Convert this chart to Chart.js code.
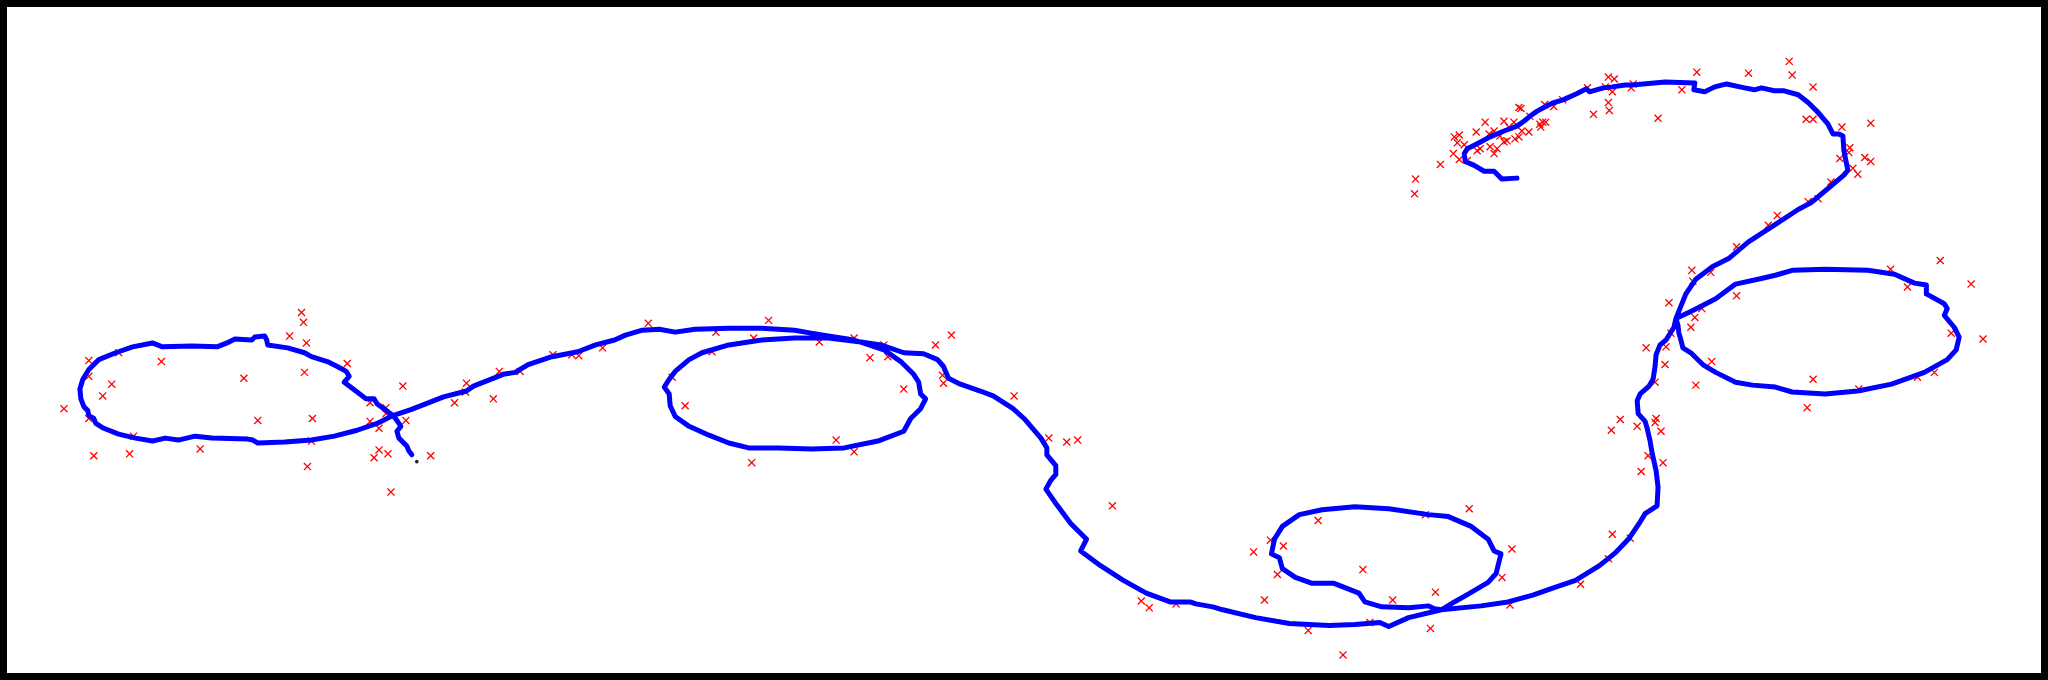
<!DOCTYPE html>
<html>
<head>
<meta charset="utf-8">
<script src="https://cdn.jsdelivr.net/npm/chart.js@4/dist/chart.umd.min.js"></script>
<style>
  html, body { margin: 0; padding: 0; background: #fff; }
  #frame {
    width: 2048px; height: 680px; box-sizing: border-box;
    border: 7px solid #000; background: #fff;
  }
  canvas { display: block; }
</style>
</head>
<body>
<div id="frame"><canvas id="map" width="2034" height="666"></canvas></div>
<script>
// axis extents (same units as the picture)
const xRange = [7, 2041];
const yRange = [7, 673];

// estimated robot trajectory, in drawing order
const trajectory = [
  [408,457],[405,453],[403,448],[395,440],[393,433],[397,428],[393,422],[389,417],
  [373,405],[370,400],[362,400],[353,393],[340,383],[345,377],[342,372],[333,367],
  [323,362],[307,357],[300,353],[283,348],[263,345],[262,340],[260,336],[250,337],
  [247,340],[230,339],[222,343],[212,347],[187,346],[157,347],[152,345],[147,343],
  [127,347],[110,353],[93,360],[83,370],[77,380],[74,390],[75,400],[78,408],
  [82,412],[83,417],[88,420],[90,425],[98,430],[113,436],[130,440],[147,443],
  [160,440],[173,442],[190,438],[207,440],[243,441],[248,442],[253,445],[280,444],
  [307,442],[330,438],[353,432],[373,425],[389,417],[407,411],[440,398],[463,392],
  [470,387],[500,375],[512,373],[525,365],[549,357],[575,352],[593,345],[612,340],
  [623,335],[640,330],[657,329],[673,332],[693,329],[727,328],[760,328],[793,330],
  [810,333],[827,336],[853,340],[883,350],[900,362],[913,375],[918,383],[920,395],
  [925,400],[920,410],[910,420],[903,433],[877,443],[843,450],[810,451],[777,450],
  [747,450],[727,445],[707,437],[687,428],[673,418],[668,407],[667,395],[662,388],
  [667,380],[673,372],[687,360],[700,353],[727,345],[760,340],[793,338],[827,338],
  [860,342],[880,345],[903,353],[923,354],[937,360],[943,367],[948,379],[960,385],
  [980,392],[993,397],[1013,410],[1024,420],[1041,440],[1047,450],[1047,457],[1056,468],
  [1056,477],[1051,483],[1046,492],[1057,508],[1071,527],[1087,543],[1081,555],[1101,570],
  [1124,585],[1147,598],[1171,607],[1191,607],[1197,609],[1214,612],[1224,615],[1257,623],
  [1291,629],[1331,631],[1357,630],[1382,628],[1391,632],[1411,623],[1444,615],[1457,607],
  [1471,599],[1491,587],[1499,578],[1504,558],[1497,555],[1491,543],[1474,530],[1451,520],
  [1431,518],[1391,512],[1357,510],[1324,513],[1301,518],[1284,530],[1276,543],[1273,558],
  [1281,562],[1284,573],[1297,582],[1314,588],[1336,588],[1361,598],[1367,607],[1384,612],
  [1411,613],[1431,611],[1437,614],[1444,615],[1484,611],[1511,607],[1536,600],[1556,593],
  [1579,585],[1603,570],[1619,557],[1633,542],[1643,527],[1649,517],[1661,509],[1662,490],
  [1660,473],[1656,455],[1654,443],[1651,430],[1649,423],[1642,415],[1641,402],[1644,395],
  [1653,387],[1657,380],[1659,367],[1660,355],[1664,345],[1670,340],[1678,327],[1680,318],
  [1697,310],[1720,298],[1740,283],[1767,277],[1780,274],[1797,269],[1830,268],[1873,269],
  [1900,273],[1920,282],[1932,284],[1932,293],[1950,303],[1953,308],[1950,315],[1960,327],
  [1965,337],[1962,350],[1953,360],[1930,373],[1897,385],[1863,392],[1830,395],[1797,393],
  [1780,388],[1757,386],[1740,383],[1720,373],[1707,365],[1695,353],[1687,348],[1685,340],
  [1683,333],[1682,325],[1680,318],[1690,293],[1700,278],[1717,265],[1733,257],[1747,245],
  [1753,240],[1779,223],[1803,207],[1816,200],[1836,183],[1849,172],[1853,167],[1851,157],
  [1849,147],[1848,132],[1844,130],[1838,130],[1833,120],[1823,108],[1813,98],[1803,90],
  [1789,86],[1779,86],[1766,83],[1759,85],[1749,83],[1731,79],[1719,82],[1709,87],
  [1698,85],[1699,78],[1669,77],[1636,80],[1629,80],[1616,82],[1607,83],[1593,87],
  [1590,84],[1580,89],[1567,95],[1557,98],[1547,103],[1540,107],[1533,112],[1527,117],
  [1520,122],[1507,127],[1493,133],[1480,140],[1470,145],[1467,150],[1468,158],[1477,162],
  [1487,168],[1497,168],[1505,176],[1520,175]
];

// observed landmarks (red x)
const landmarks = [
  [297,312],[299,322],[285,336],[302,343],[343,364],[300,373],[399,387],[83,361],
  [156,362],[113,353],[83,377],[106,385],[97,397],[58,410],[83,420],[239,379],
  [253,422],[308,420],[366,404],[382,409],[382,415],[366,423],[402,422],[375,430],
  [128,438],[88,458],[124,456],[195,451],[307,443],[303,469],[375,452],[384,456],
  [370,460],[427,458],[387,495],
  [496,372],[463,384],[462,393],[451,404],[490,400],[517,372],[550,355],[569,355],
  [576,356],[600,348],[646,323],[767,320],[714,332],[752,338],[710,352],[670,378],
  [683,407],[750,465],[835,442],[853,454],[903,390],[869,358],[887,357],[883,345],
  [853,338],[818,342],[935,345],[951,335],[942,376],[943,384],[1014,397],
  [1049,440],[1067,444],[1078,442],[1113,509],[1142,606],[1150,613],[1177,609],[1266,605],
  [1310,636],[1345,661],[1255,556],[1272,544],[1285,550],[1279,579],[1320,524],[1365,574],
  [1395,605],[1438,597],[1428,518],[1472,512],[1515,553],[1505,582],[1513,610],[1433,634],
  [1372,628],
  [1650,348],[1670,347],[1669,365],[1659,383],[1700,386],[1716,362],[1818,380],[1864,390],
  [1812,409],[1923,378],[1940,373],[1989,339],[1624,421],[1615,432],[1641,428],[1660,420],
  [1659,424],[1665,433],[1652,458],[1667,465],[1645,474],[1616,538],[1634,542],[1612,563],
  [1584,589],
  [1741,245],[1696,269],[1715,271],[1697,280],[1673,302],[1706,308],[1699,317],[1695,327],
  [1675,333],[1741,295],[1896,268],[1913,286],[1946,259],[1977,283],[1957,333],
  [1701,67],[1753,68],[1794,56],[1797,70],[1818,82],[1686,85],[1662,114],[1597,110],
  [1612,98],[1613,106],[1616,87],[1612,72],[1618,74],[1609,82],[1637,79],[1635,83],
  [1591,83],[1566,95],[1548,100],[1543,120],[1546,118],[1549,118],[1544,123],[1811,115],
  [1818,115],[1847,123],[1876,119],[1855,144],[1854,149],[1845,155],[1870,154],[1876,158],
  [1858,165],[1863,171],[1836,179],[1813,199],[1823,196],[1782,213],[1773,223],
  [1522,103],[1524,104],[1557,102],[1533,112],[1488,118],[1507,117],[1517,118],[1512,123],
  [1479,128],[1497,127],[1492,130],[1503,132],[1525,127],[1532,128],[1457,133],[1462,131],
  [1460,139],[1467,141],[1456,150],[1462,156],[1470,157],[1483,145],[1480,147],[1493,143],
  [1500,145],[1497,150],[1507,138],[1510,137],[1518,135],[1522,133],[1443,161],[1418,176],
  [1417,191]
];

// start position (small black dot)
const startPoint = [[413,464]];

const toXY = arr => arr.map(p => ({ x: p[0], y: p[1] }));

new Chart(document.getElementById('map'), {
  type: 'scatter',
  data: {
    datasets: [
      {
        label: 'trajectory',
        data: toXY(trajectory),
        showLine: true,
        borderColor: '#0000ff',
        borderWidth: 5,
        borderCapStyle: 'round',
        borderJoinStyle: 'round',
        pointRadius: 0,
        tension: 0,
        order: 0
      },
      {
        label: 'landmarks',
        data: toXY(landmarks),
        pointStyle: 'crossRot',
        pointRadius: 5,
        borderColor: '#ff0000',
        borderWidth: 1.3,
        order: 1
      },
      {
        label: 'start',
        data: toXY(startPoint),
        pointRadius: 1.8,
        backgroundColor: '#222',
        borderWidth: 0,
        order: 2
      }
    ]
  },
  options: {
    responsive: false,
    animation: false,
    devicePixelRatio: 1,
    layout: { padding: 0 },
    plugins: { legend: { display: false }, tooltip: { enabled: false } },
    scales: {
      x: { type: 'linear', display: false, min: xRange[0], max: xRange[1] },
      y: { type: 'linear', display: false, min: yRange[0], max: yRange[1], reverse: true }
    }
  }
});
</script>
</body>
</html>
